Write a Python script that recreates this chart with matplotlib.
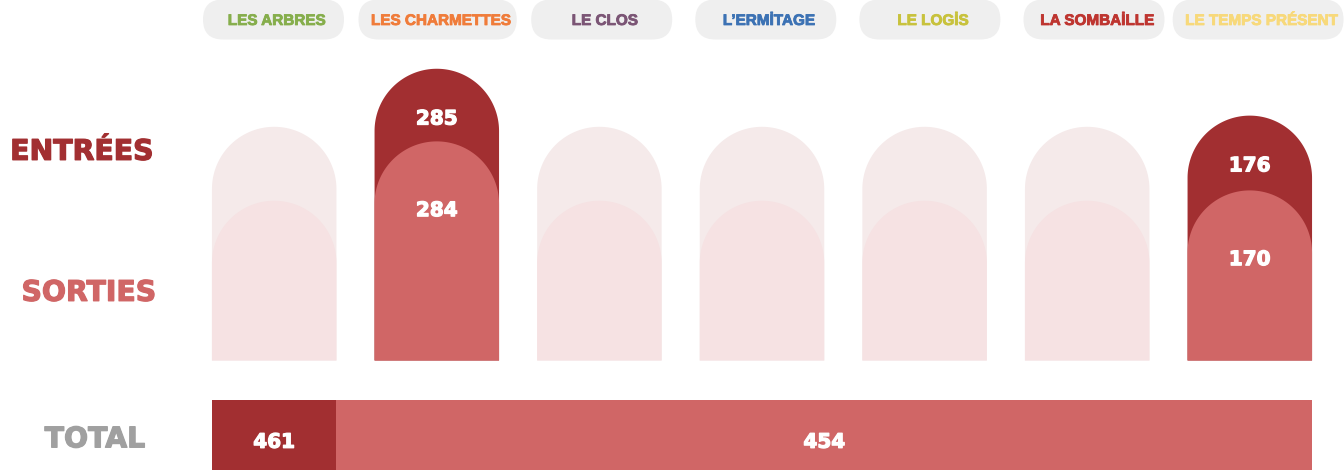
import numpy as np
import matplotlib
matplotlib.use("Agg")
import matplotlib.pyplot as plt
from matplotlib.patches import Polygon, Rectangle, FancyBboxPatch
import matplotlib.patheffects as pe

# ---------------- data ----------------
residences = ["LES ARBRES", "LES CHARMETTES", "LE CLOS", "L’ERMİTAGE",
              "LE LOGİS", "LA SOMBAİLLE", "LE TEMPS PRÉSENT"]
residence_colors = ["#86AE4C", "#F07C3A", "#7B5575", "#3C72B4",
                    "#C8C23C", "#BE3530", "#F8D97A"]
entrees = [None, 285, None, None, None, None, 176]
sorties = [None, 284, None, None, None, None, 170]
placeholder_entree = 150
placeholder_sortie = 146
row_labels = ["ENTRÉES", "SORTIES", "TOTAL"]

total_entrees = sum(v for v in entrees if v is not None)
total_sorties = sum(v for v in sorties if v is not None)

# ---------------- style / layout ----------------
C_ENT = "#A22F31"
C_SOR = "#D06666"
C_GHOST_ENT = "#F5EAEA"
C_GHOST_SOR = "#F6E2E3"
C_PILL = "#EFEFEF"
C_TOTAL = "#A0A0A0"

W, H = 1344, 470
fig = plt.figure(figsize=(W / 100, H / 100), dpi=100)
ax = fig.add_axes([0, 0, 1, 1])
ax.set_xlim(0, W)
ax.set_ylim(H, 0)
ax.axis("off")

X0, PITCH, BAR_W = 274.2, 162.6, 124.5
BOTTOM = 360.5
SCALE = 0.43
OFF_ENT, OFF_SOR = 169.2, 97.0

NUM_FS = 14.4
DV_CAP = 0.729
LS_CAP = 0.716


def pt2px(pt):
    return pt * 100 / 72


def heavy(color, lw):
    return [pe.withStroke(linewidth=lw, foreground=color)]


def rounded_bar(cx, top, color, z):
    r = BAR_W / 2
    th = np.linspace(0, np.pi, 120)
    xs = cx + r * np.cos(th)
    ys = top + r - r * np.sin(th)
    pts = np.column_stack([np.concatenate([[cx + r], xs, [cx - r]]),
                           np.concatenate([[BOTTOM], ys, [BOTTOM]])])
    ax.add_patch(Polygon(pts, closed=True, facecolor=color, edgecolor="none",
                         zorder=z))


def bar_top(value, offset):
    return BOTTOM - (offset + SCALE * value)


def num_text(x, yc, s):
    base = yc + pt2px(NUM_FS) * DV_CAP / 2
    ax.text(x, base, s, ha="center", va="baseline", zorder=10,
            family="DejaVu Sans", weight="bold", size=NUM_FS, color="white",
            path_effects=heavy("white", 0.9))


# bars
for i, (e, s) in enumerate(zip(entrees, sorties)):
    cx = X0 + i * PITCH
    if e is None:
        rounded_bar(cx, bar_top(placeholder_entree, OFF_ENT), C_GHOST_ENT, 2)
    else:
        t = bar_top(e, OFF_ENT)
        rounded_bar(cx, t, C_ENT, 2)
        num_text(cx, t + 48.5, str(e))
    if s is None:
        rounded_bar(cx, bar_top(placeholder_sortie, OFF_SOR), C_GHOST_SOR, 3)
    else:
        t = bar_top(s, OFF_SOR)
        rounded_bar(cx, t, C_SOR, 3)
        num_text(cx, t + 67.5, str(s))

# tabs
TAB_X0, TAB_PITCH = 276.5, 164.1
TAB_FS = 11
renderer = fig.canvas.get_renderer()
for i, (name, col) in enumerate(zip(residences, residence_colors)):
    tx = TAB_X0 + i * TAB_PITCH
    base = 19.5 + pt2px(TAB_FS) * LS_CAP / 2
    t = ax.text(tx, base, name, ha="center", va="baseline", color=col,
                family="Liberation Sans", weight="bold", size=TAB_FS, zorder=5,
                path_effects=heavy(col, 0.6))
    bb = t.get_window_extent(renderer=renderer)
    tw = bb.width
    pw = max(141, tw + 19)
    pc = tx - 3
    ax.add_patch(FancyBboxPatch((pc - pw / 2, -0.5), pw, 40,
                                boxstyle="round,pad=0,rounding_size=20",
                                facecolor=C_PILL, edgecolor="none", zorder=1))

# row labels
LBL_FS = 20.4
for lbl, yc, col, xc in [(row_labels[0], 149.5, C_ENT, 82),
                         (row_labels[1], 290.5, C_SOR, 89),
                         (row_labels[2], 437, C_TOTAL, 95)]:
    base = yc + pt2px(LBL_FS) * DV_CAP / 2
    ax.text(xc, base, lbl, ha="center", va="baseline", color=col,
            family="DejaVu Sans", weight="bold", size=LBL_FS,
            path_effects=heavy(col, 0.9))

# total bar
left0 = X0 - BAR_W / 2
mid = X0 + BAR_W / 2
right = X0 + 6 * PITCH + BAR_W / 2
ax.add_patch(Rectangle((left0, 400), mid - left0, 75, facecolor=C_ENT,
                       edgecolor="none", zorder=2))
ax.add_patch(Rectangle((mid, 400), right - mid, 75, facecolor=C_SOR,
                       edgecolor="none", zorder=2))
num_text((left0 + mid) / 2, 440.5, str(total_entrees))
num_text((mid + right) / 2, 440.5, str(total_sorties))

fig.savefig("out.png", dpi=100)
